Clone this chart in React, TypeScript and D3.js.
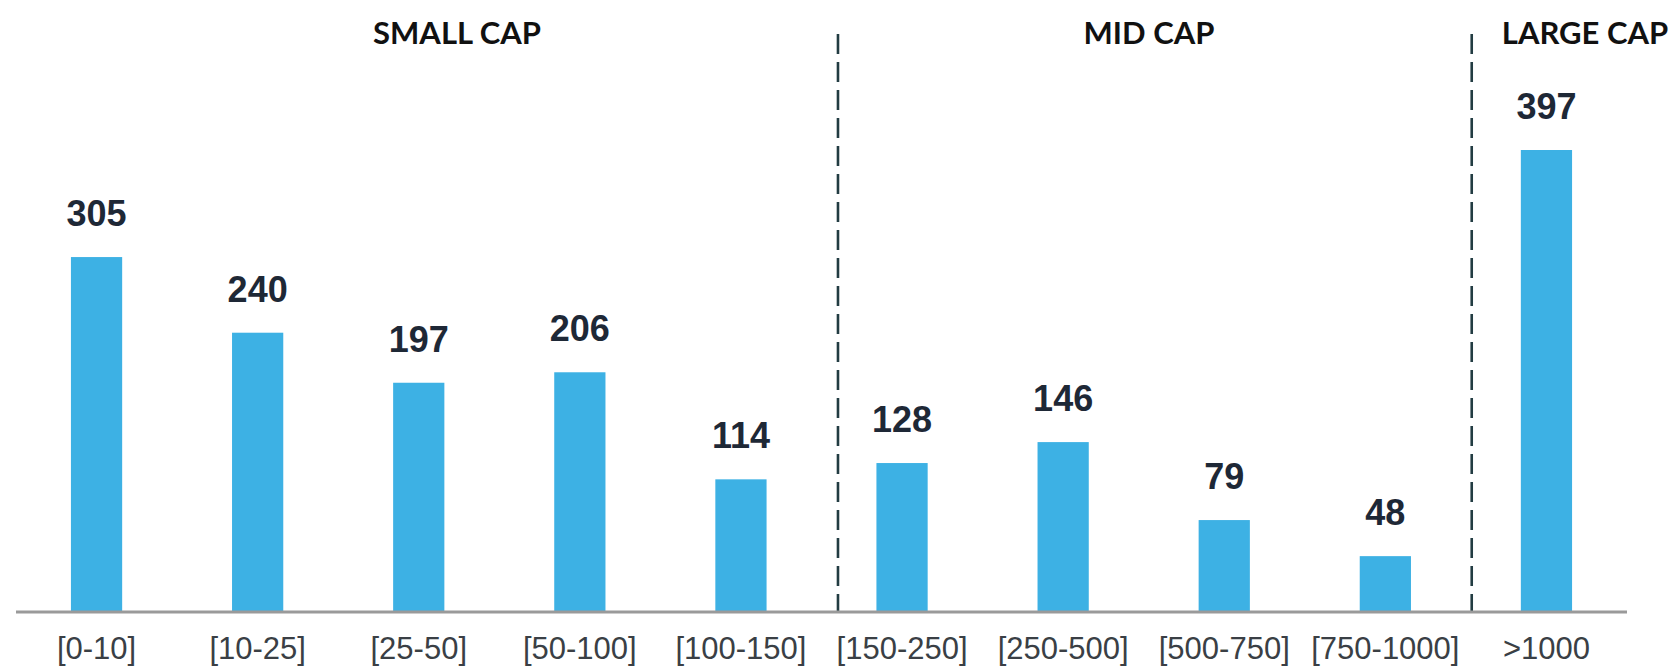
import React from "react";
import * as d3 from "d3";

// Number of companies per market-cap bucket
const categories = ["[0-10]", "[10-25]", "[25-50]", "[50-100]", "[100-150]", "[150-250]", "[250-500]", "[500-750]", "[750-1000]", ">1000"];
const counts = [305, 240, 197, 206, 114, 128, 146, 79, 48, 397];

// Group headers: label, and the x (in px) of their centre
const groups = ["SMALL CAP", "MID CAP", "LARGE CAP"];
const groupCenters = [457, 1149, 1585];

// Divider lines sit between these category pairs, at a fraction of the gap
const dividerAfter = ["[100-150]", "[750-1000]"];
const dividerFrac = [0.65, 0.553];

const W = 1675;
const H = 668;
const axisY = 612;

export default function App() {
  const x = d3
    .scaleBand<string>()
    .domain(categories)
    .range([16, 1627])
    .paddingInner(0.682)
    .paddingOuter(0.341);

  const y = d3.scaleLinear().domain([0, 397]).range([axisY, 150]);

  const bw = x.bandwidth();

  return (
    <svg
      width={W}
      height={H}
      style={{ position: "absolute", left: 0, top: 0, background: "#fff" }}
    >
      {/* group headers */}
      {groups.map((g, i) => (
        <text
          key={g}
          x={groupCenters[i]}
          y={44}
          textAnchor="middle"
          fontFamily="Lato, 'Open Sans', sans-serif"
          fontWeight="bold"
          fontSize={31}
          fill="#111"
        >
          {g}
        </text>
      ))}

      {/* dashed dividers */}
      {dividerAfter.map((c, i) => {
        const idx = categories.indexOf(c);
        const left = (x(c) as number) + bw;
        const right = x(categories[idx + 1]) as number;
        const dx = left + (right - left) * dividerFrac[i];
        return (
          <line
            key={c}
            x1={dx}
            x2={dx}
            y1={34}
            y2={axisY}
            stroke="#223c42"
            strokeWidth={2.6}
            strokeDasharray="20 8"
          />
        );
      })}

      {/* bars */}
      {categories.map((c, i) => (
        <rect
          key={c}
          x={x(c)}
          y={y(counts[i])}
          width={bw}
          height={axisY - y(counts[i])}
          fill="#3db1e4"
        />
      ))}

      {/* value labels */}
      {categories.map((c, i) => (
        <text
          key={c}
          x={(x(c) as number) + bw / 2}
          y={y(counts[i]) - 31}
          textAnchor="middle"
          fontFamily="'Liberation Sans', Arial, sans-serif"
          fontWeight="bold"
          fontSize={36}
          fill="#1e2836"
        >
          {counts[i]}
        </text>
      ))}

      {/* baseline */}
      <line x1={16} x2={1627} y1={axisY} y2={axisY} stroke="#9a9a9a" strokeWidth={3} />

      {/* category labels */}
      {categories.map((c) => (
        <text
          key={c}
          x={(x(c) as number) + bw / 2}
          y={659}
          textAnchor="middle"
          fontFamily="'Liberation Sans', Arial, sans-serif"
          fontSize={31}
          fill="#3a3f45"
        >
          {c}
        </text>
      ))}
    </svg>
  );
}
